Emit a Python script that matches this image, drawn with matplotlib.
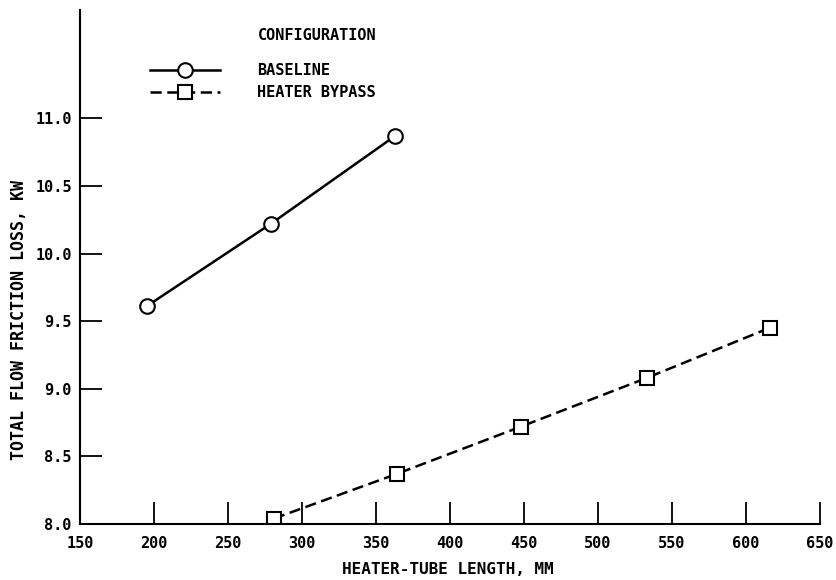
import matplotlib.pyplot as plt

# Heater-tube length (mm) vs total flow friction loss (kW)
baseline_len = [195, 279, 363]
baseline_loss = [9.61, 10.22, 10.87]

bypass_len = [281, 364, 448, 533, 616]
bypass_loss = [8.04, 8.37, 8.72, 9.08, 9.45]

x_ticks = [150, 200, 250, 300, 350, 400, 450, 500, 550, 600, 650]
y_ticks = [8.0, 8.5, 9.0, 9.5, 10.0, 10.5, 11.0]

plt.rcParams['font.family'] = ['DejaVu Sans Mono']
plt.rcParams['font.weight'] = 'bold'
plt.rcParams['axes.labelweight'] = 'bold'

fig = plt.figure(figsize=(8.37, 5.8), dpi=100)
ax = fig.add_axes([0.0956, 0.0966, 0.884, 0.886])

ax.plot(baseline_len, baseline_loss, color='black', lw=1.8, marker='o', ms=10.5,
        mfc='white', mec='black', mew=1.5, label='BASELINE')
ax.plot(bypass_len, bypass_loss, color='black', lw=1.8, marker='s', ms=9.5,
        mfc='white', mec='black', mew=1.5, dashes=(4.5, 2.2), label='HEATER BYPASS')

ax.set_xlim(150, 650)
ax.set_ylim(8.0, 11.8)
ax.set_xticks(x_ticks)
ax.set_yticks(y_ticks)
ax.set_yticklabels([f'{v:.1f}' for v in y_ticks])

for side in ('top', 'right'):
    ax.spines[side].set_visible(False)
for side in ('left', 'bottom'):
    ax.spines[side].set_linewidth(1.5)

ax.tick_params(direction='in', length=16, width=1.3, labelsize=11)
ax.tick_params(axis='x', pad=9)
ax.tick_params(axis='y', pad=6)

ax.set_xlabel('HEATER-TUBE LENGTH, MM', fontsize=11.5)
ax.xaxis.set_label_coords(0.497, -0.074)
ax.set_ylabel('TOTAL FLOW FRICTION LOSS, KW', fontsize=12)
ax.yaxis.set_label_coords(-0.070, 0.397)

leg = ax.legend(loc='upper left', bbox_to_anchor=(150 / 837, 1 - 63 / 580),
                bbox_transform=fig.transFigure, frameon=False, fontsize=11,
                borderpad=0, borderaxespad=0, handlelength=4.6,
                handletextpad=2.4, labelspacing=0.45)
fig.text(258 / 837, 1 - 36 / 580, 'CONFIGURATION', fontsize=11, va='center')

fig.savefig('out.png', dpi=100)
